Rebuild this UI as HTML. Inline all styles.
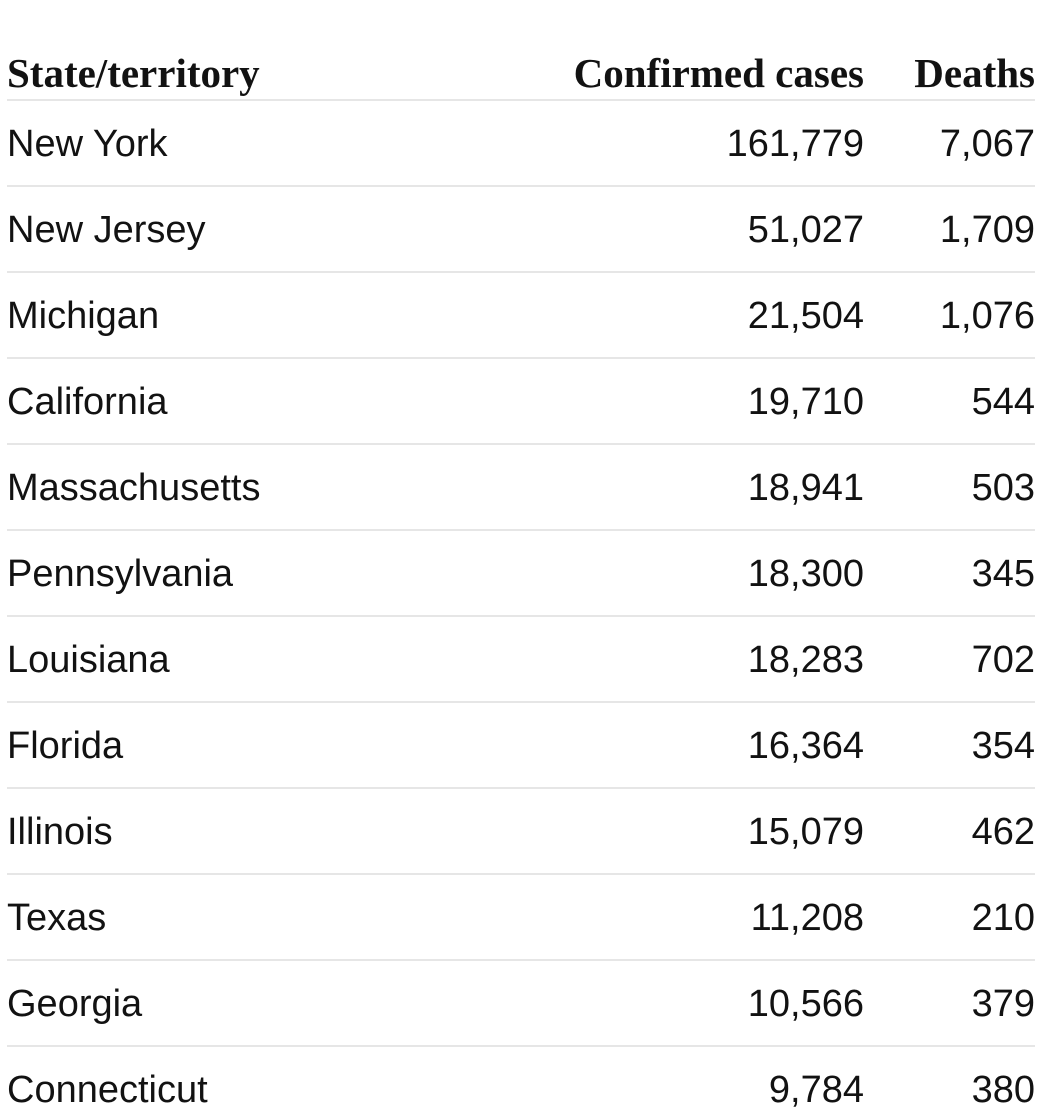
<!DOCTYPE html>
<html><head><meta charset="utf-8"><style>
html,body{margin:0;padding:0;background:#fff;width:1041px;height:1114px;overflow:hidden;}
#t{position:relative;width:1041px;height:1114px;}
.h{position:absolute;font-family:"Liberation Serif",serif;font-weight:bold;font-size:41px;color:#121212;line-height:1;}
.c{position:absolute;font-family:"Liberation Sans",sans-serif;font-size:38px;color:#121212;line-height:1;}
.ln{position:absolute;left:7px;width:1028px;height:2px;background:#e6e6e6;}
</style></head><body>
<div id="t"></div>
<script>
const states=["New York","New Jersey","Michigan","California","Massachusetts","Pennsylvania","Louisiana","Florida","Illinois","Texas","Georgia","Connecticut"];
const cases=["161,779","51,027","21,504","19,710","18,941","18,300","18,283","16,364","15,079","11,208","10,566","9,784"];
const deaths=["7,067","1,709","1,076","544","503","345","702","354","462","210","379","380"];
const t=document.getElementById('t');
function add(cls,txt,left,right,top,name){
  const d=document.createElement('div');
  d.className=cls;
  d.textContent=txt;
  
  
  d.style.top=top+'px';
  if(right!==null){d.style.right=(1041-right)+'px';d.style.textAlign='right';}
  else d.style.left=left+'px';
  t.appendChild(d);
}
add('h','State/territory',7,null,53,'header-state');
add('h','Confirmed cases',0,864,53,'header-cases');
add('h','Deaths',0,1035,53,'header-deaths');
let l=document.createElement('div');l.className='ln';l.style.top='99px';


t.appendChild(l);
states.forEach((s,i)=>{
  const top=125+86*i;
  add('c',s,7,null,top,'state-name');
  add('c',cases[i],0,864,top,'confirmed-cases');
  add('c',deaths[i],0,1035,top,'deaths');
  const ln=document.createElement('div');ln.className='ln';ln.style.top=(185+86*i)+'px';
  
  
  t.appendChild(ln);
});
</script>
</body></html>
